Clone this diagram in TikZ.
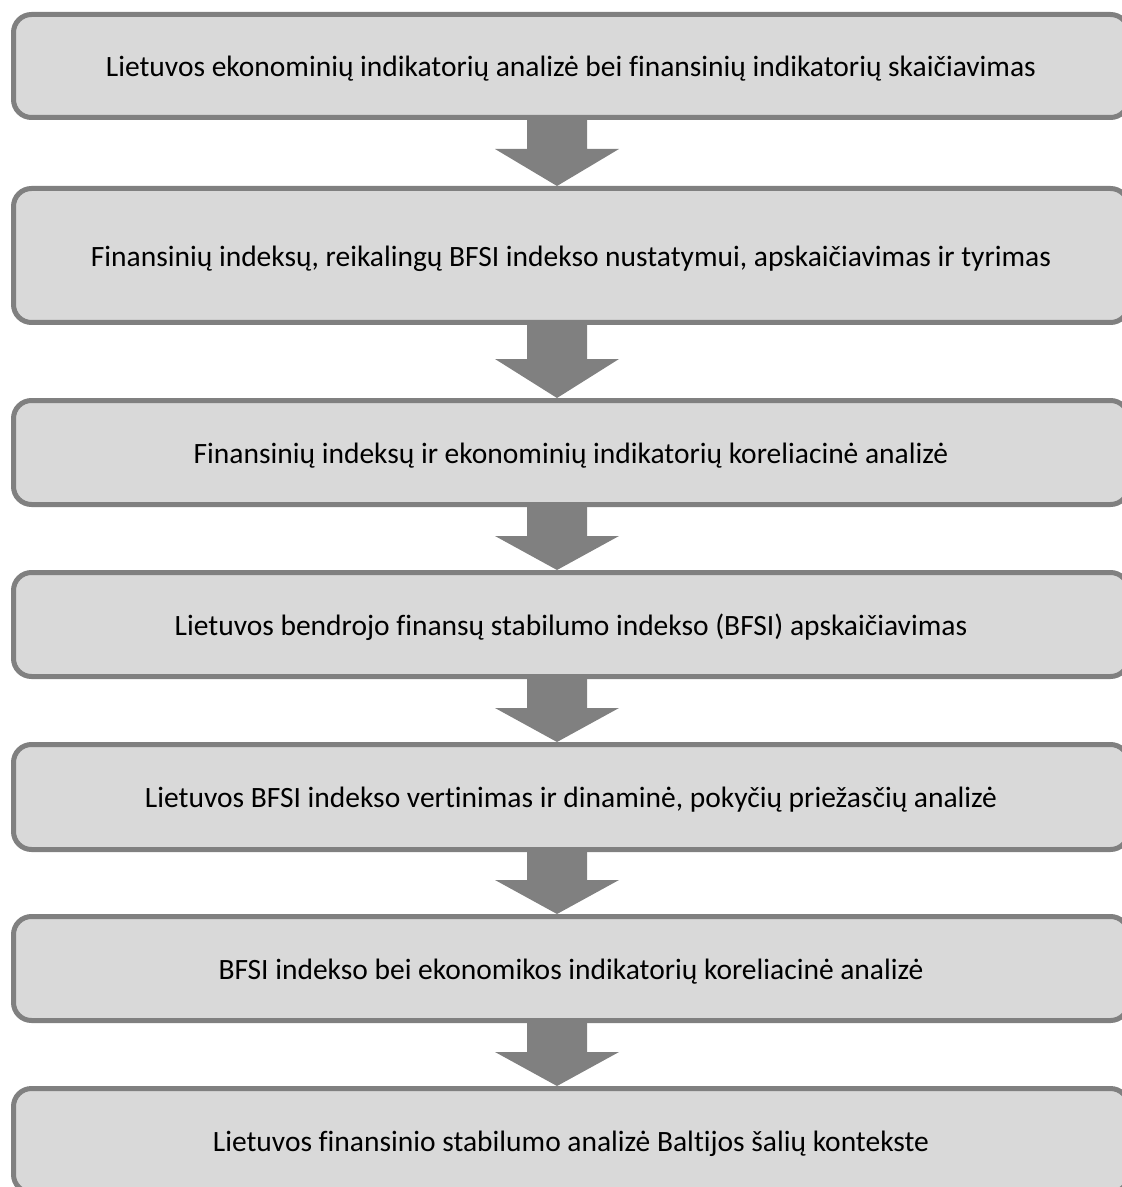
\documentclass[tikz,border=0pt]{standalone}
\usepackage{fontspec}
\setmainfont{Carlito}[Ligatures=NoCommon]
\usetikzlibrary{calc}

\definecolor{boxfill}{HTML}{D9D9D9}
\definecolor{boxline}{HTML}{808080}

\newcommand{\lowtext}[1]{\raisebox{-1.5pt}[\height][\depth]{#1}}

\begin{document}
\begin{tikzpicture}[x=0.5pt, y=-0.5pt,
    stagebox/.style={draw=boxline, fill=boxfill, line width=2.5pt, rounded corners=9pt,
      minimum width=557.5pt, inner sep=0pt, align=center,
      font=\fontsize{14.75pt}{17pt}\selectfont},
    flowarrow/.style={fill=boxline, draw=none}]
      \useasboundingbox (0,0) rectangle (1122,1187);
      \clip (0,0) rectangle (1122,1187);
      %
      \node[stagebox, minimum height=51.5pt] (S1) at (571,66) {\lowtext{Lietuvos ekonominių indikatorių analizė bei finansinių indikatorių skaičiavimas}};
      \node[stagebox, minimum height=67pt] (S2) at (571,255.5) {\lowtext{Finansinių indeksų, reikalingų BFSI indekso nustatymui, apskaičiavimas ir tyrimas}};
      \node[stagebox, minimum height=52pt] (S3) at (571,452.5) {\lowtext{Finansinių indeksų ir ekonominių indikatorių koreliacinė analizė}};
      \node[stagebox, minimum height=52pt] (S4) at (571,624.5) {\lowtext{Lietuvos bendrojo finansų stabilumo indekso (BFSI) apskaičiavimas}};
      \node[stagebox, minimum height=52.5pt] (S5) at (571,797) {\lowtext{Lietuvos BFSI indekso vertinimas ir dinaminė, pokyčių priežasčių analizė}};
      \node[stagebox, minimum height=52pt] (S6) at (571,968.5) {\lowtext{BFSI indekso bei ekonomikos indikatorių koreliacinė analizė}};
      \node[stagebox, minimum height=52pt] (S7) at (571,1140.5) {\lowtext{Lietuvos finansinio stabilumo analizė Baltijos šalių kontekste}};
      %
      \coordinate (H1) at ($(S2.north)+(0,-37)$);
      \fill[flowarrow] (527,0 |- S1.south) -- (587,0 |- S1.south) -- (587,0 |- H1) -- (619,0 |- H1)
        -- (557,0 |- S2.north) -- (495,0 |- H1) -- (527,0 |- H1) -- cycle;
      \coordinate (H2) at ($(S3.north)+(0,-39)$);
      \fill[flowarrow] (527,0 |- S2.south) -- (587,0 |- S2.south) -- (587,0 |- H2) -- (619,0 |- H2)
        -- (557,0 |- S3.north) -- (495,0 |- H2) -- (527,0 |- H2) -- cycle;
      \coordinate (H3) at ($(S4.north)+(0,-34)$);
      \fill[flowarrow] (527,0 |- S3.south) -- (587,0 |- S3.south) -- (587,0 |- H3) -- (619,0 |- H3)
        -- (557,0 |- S4.north) -- (495,0 |- H3) -- (527,0 |- H3) -- cycle;
      \coordinate (H4) at ($(S5.north)+(0,-34)$);
      \fill[flowarrow] (527,0 |- S4.south) -- (587,0 |- S4.south) -- (587,0 |- H4) -- (619,0 |- H4)
        -- (557,0 |- S5.north) -- (495,0 |- H4) -- (527,0 |- H4) -- cycle;
      \coordinate (H5) at ($(S6.north)+(0,-34)$);
      \fill[flowarrow] (527,0 |- S5.south) -- (587,0 |- S5.south) -- (587,0 |- H5) -- (619,0 |- H5)
        -- (557,0 |- S6.north) -- (495,0 |- H5) -- (527,0 |- H5) -- cycle;
      \coordinate (H6) at ($(S7.north)+(0,-34)$);
      \fill[flowarrow] (527,0 |- S6.south) -- (587,0 |- S6.south) -- (587,0 |- H6) -- (619,0 |- H6)
        -- (557,0 |- S7.north) -- (495,0 |- H6) -- (527,0 |- H6) -- cycle;
    \end{tikzpicture}
\end{document}
